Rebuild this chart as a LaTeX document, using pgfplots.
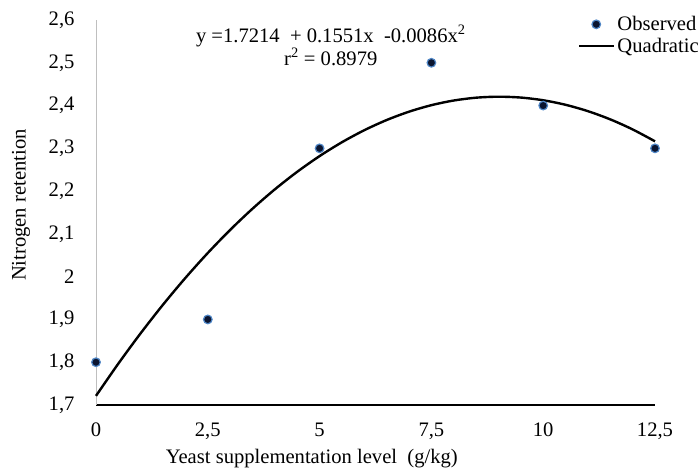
\documentclass[border=0pt]{standalone}
\usepackage{pgfplots}
\pgfplotsset{compat=1.18}
\usepackage{fontspec}
\setmainfont{Liberation Serif}
\definecolor{mkfill}{HTML}{0B1530}
\definecolor{mkedge}{HTML}{4F86C6}
\definecolor{yax}{HTML}{BFBFBF}
\newcommand{\fs}{\fontsize{20.6}{24}\selectfont}
\pgfplotsset{
  obsleg/.style={legend image code/.code={\draw[##1] plot coordinates {(17pt,0pt)};}},
  quadleg/.style={legend image code/.code={\draw[##1] (0pt,0pt) -- (35pt,0pt);}},
}
\begin{document}
\begin{tikzpicture}
\path[use as bounding box] (0,0) rectangle (700pt,468pt);
\begin{axis}[
  at={(96pt,63pt)}, anchor=south west,
  scale only axis, width=559pt, height=385pt,
  xmin=0, xmax=12.5, ymin=1.7, ymax=2.6,
  axis x line*=bottom, axis y line*=left,
  x axis line style={black, line width=1.6pt},
  y axis line style={yax, line width=1pt},
  xtick={0,2.5,5,7.5,10,12.5},
  xticklabels={0,{2,5},5,{7,5},10,{12,5}},
  ytick={1.7,1.8,1.9,2.0,2.1,2.2,2.3,2.4,2.5,2.6},
  yticklabels={{1,7},{1,8},{1,9},2,{2,1},{2,2},{2,3},{2,4},{2,5},{2,6}},
  major tick length=0pt,
  ticklabel style={font=\fs},
  yticklabel style={xshift=-18pt},
  xticklabel style={yshift=-14pt},
  xlabel={Yeast supplementation level\ \ (g/kg)},
  ylabel={Nitrogen retention},
  label style={font=\fs},
  xlabel style={at={(axis description cs:0.386,-0.138)}, anchor=center},
  ylabel style={at={(axis description cs:-0.134,0.519)}, anchor=center},
  clip=false,
  legend style={at={(axis description cs:0.862,1.015)}, anchor=north west,
    draw=none, fill=none, font=\fs, inner sep=0pt, row sep=2pt,
    nodes={inner sep=2pt}},
  legend cell align=left,
]
\addplot[only marks, mark=*, mark size=4.3pt,
  mark options={fill=mkfill, draw=mkedge, line width=1.2pt}, obsleg]
  coordinates {(0,1.8) (2.5,1.9) (5,2.3) (7.5,2.5) (10,2.4) (12.5,2.3)};
\addlegendentry{Observed}
\addplot[black, line width=2.4pt, smooth, no marks, quadleg]
  coordinates {
  (0,1.7214) (0.5,1.7968) (1,1.8679) (1.5,1.9347) (2,1.9972) (2.5,2.0554)
  (3,2.1093) (3.5,2.1589) (4,2.2042) (4.5,2.2452) (5,2.2819) (5.5,2.3143)
  (6,2.3424) (6.5,2.3662) (7,2.3857) (7.5,2.4009) (8,2.4118) (8.5,2.4184)
  (9,2.4207) (9.5,2.4187) (10,2.4124) (10.5,2.4018) (11,2.3869) (11.5,2.3677)
  (12,2.3442) (12.5,2.3164)};
\addlegendentry{Quadratic}
\node[font=\fs, anchor=center, inner sep=0pt] at (axis description cs:0.420,0.958)
  {y =1.7214\ \ + 0.1551x\ \ -0.0086x\textsuperscript{2}};
\node[font=\fs, anchor=center, inner sep=0pt] at (axis description cs:0.420,0.904)
  {r\textsuperscript{2} = 0.8979};
\end{axis}
\end{tikzpicture}
\end{document}
